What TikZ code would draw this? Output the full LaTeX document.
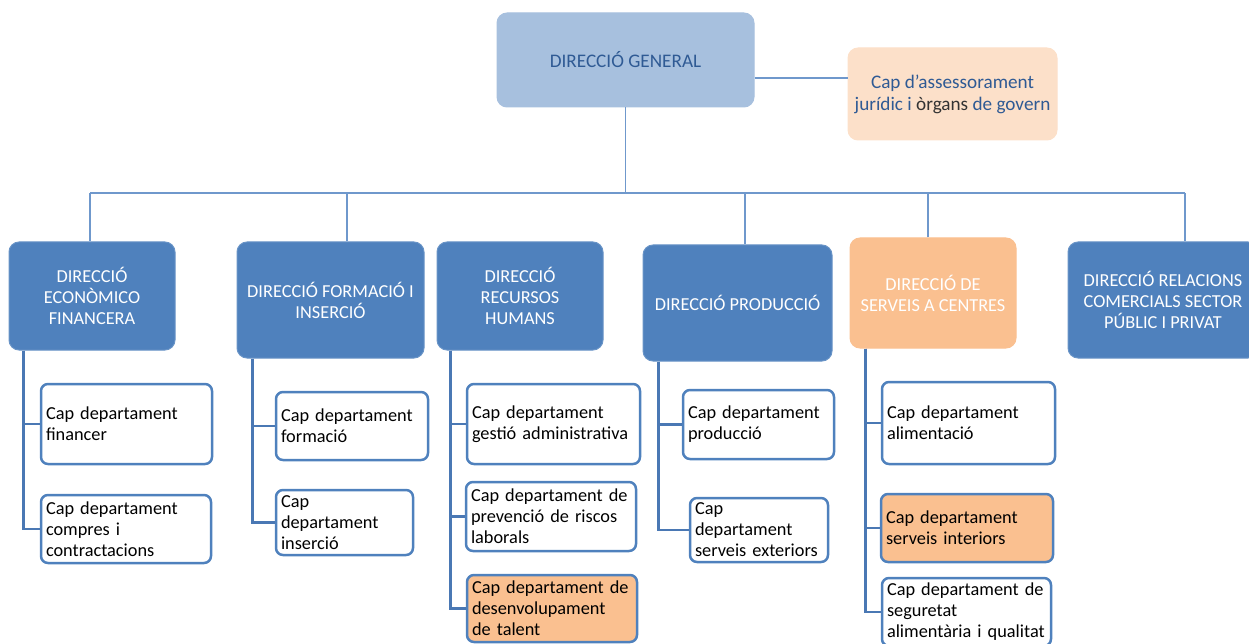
\documentclass[tikz,border=0pt]{standalone}
\usepackage{fontspec}
\setmainfont{Carlito}
\usepackage{xcolor}
\usepackage{tikz}
\definecolor{dirblue}{HTML}{4F81BD}
\definecolor{genblue}{HTML}{A7C0DE}
\definecolor{gentext}{HTML}{2F5A94}
\definecolor{peach}{HTML}{FAC090}
\definecolor{lightpeach}{HTML}{FCE0C9}
\definecolor{busline}{HTML}{6F98CC}
\definecolor{tieline}{HTML}{4A78B4}

\tikzset{
  dirbox/.style={fill=dirblue, draw=dirblue!85!white, line width=1pt,
    rounded corners=10pt, text=white, align=center, inner sep=0pt},
  topbox/.style={dirbox, text=gentext, font=\fontsize{19.2}{22}\selectfont},
  capbox/.style={fill=white, draw=dirblue, line width=2.5pt,
    rounded corners=7pt, align=left, inner xsep=5pt, inner ysep=0pt},
  bus/.style={draw=busline, line width=1.6pt},
  tie/.style={draw=tieline, line width=2.8pt},
}

\begin{document}
\begin{tikzpicture}[x=1pt,y=-1pt,font=\fontsize{18.3}{21}\selectfont]
  \useasboundingbox (0,0) rectangle (1249,644);

  % top
  \node[topbox, fill=genblue, draw=genblue,
    minimum width=257, minimum height=94] (gen) at (625.5,60) {DIRECCIÓ GENERAL};
  \node[topbox, fill=lightpeach, draw=lightpeach,
    minimum width=209, minimum height=92] (ass) at (952.5,94)
    {Cap d’assessorament\\jurídic i \textcolor{black!80}{òrgans} de govern};

  % directions
  \node[dirbox, minimum width=166, minimum height=108] (eco) at (92,296)
    {DIRECCIÓ\\ECONÒMICO\\FINANCERA};
  \node[dirbox, minimum width=187, minimum height=116] (form) at (330.5,300)
    {DIRECCIÓ FORMACIÓ I\\INSERCIÓ};
  \node[dirbox, minimum width=166, minimum height=108] (rh) at (520,296)
    {DIRECCIÓ\\RECURSOS\\HUMANS};
  \node[dirbox, minimum width=189, minimum height=116] (prod) at (737.5,303)
    {DIRECCIÓ PRODUCCIÓ};
  \node[dirbox, fill=peach, draw=peach, minimum width=166, minimum height=110] (serv) at (933,293)
    {DIRECCIÓ DE\\SERVEIS A CENTRES};
  \node[dirbox, minimum width=190, minimum height=116] (rel) at (1163,300)
    {DIRECCIÓ RELACIONS\\COMERCIALS SECTOR\\PÚBLIC I PRIVAT};

  % bus
  \coordinate (busL) at (90,193);
  \coordinate (busR) at (1185,193);
  \draw[bus] (busL) -- (busR);
  \draw[bus] (gen.south) -- (gen.south |- busL);
  \draw[bus] ([yshift=-18]gen.east) -- ([yshift=-18]gen.east -| ass.west);
  \draw[bus] (busL) -- (busL |- eco.north);
  \draw[bus] ([xshift=16.5]form.north) -- ([xshift=16.5]form.north |- busL);
  \draw[bus] ([xshift=7.5]prod.north) -- ([xshift=7.5]prod.north |- busL);
  \draw[bus] ([xshift=-5]serv.north) -- ([xshift=-5]serv.north |- busL);
  \draw[bus] (busR) -- (busR |- rel.north);

  % departments
  \node[capbox, text width=161, minimum height=80] (ecoA) at (126.5,424)
    {Cap departament\\financer};
  \node[capbox, text width=160, minimum height=68] (ecoB) at (126,529)
    {Cap departament\\compres i\\contractacions};
  \node[capbox, text width=142, minimum height=68] (formA) at (352,426)
    {Cap departament\\formació};
  \node[capbox, text width=127, minimum height=65] (formB) at (344.5,522.5)
    {Cap\\departament\\inserció};
  \node[capbox, text width=163, minimum height=80] (rhA) at (553.5,424)
    {Cap departament\\gestió administrativa};
  \node[capbox, text width=160, minimum height=69] (rhB) at (551,516.5)
    {\mbox{Cap departament de}\\\mbox{prevenció de riscos}\\laborals};
  \node[capbox, fill=peach, text width=160, minimum height=67] (rhC) at (552,608.5)
    {\mbox{Cap departament de}\\desenvolupament\\de talent};
  \node[capbox, text width=141, minimum height=69] (prodA) at (758.5,424.5)
    {Cap departament\\producció};
  \node[capbox, text width=128, minimum height=64] (prodB) at (759,530)
    {Cap\\departament\\\mbox{serveis exteriors}};
  \node[capbox, text width=163, minimum height=82] (servA) at (968.5,423)
    {Cap departament\\alimentació};
  \node[capbox, fill=peach, text width=162, minimum height=68] (servB) at (967,528)
    {Cap departament\\serveis interiors};
  \node[capbox, text width=159, minimum height=68] (servC) at (966.5,612)
    {\mbox{Cap departament de}\\seguretat\\\mbox{alimentària i qualitat}};

  % ties
  \coordinate (ecoT) at ([xshift=15]eco.south west);
  \coordinate (formT) at ([xshift=16]form.south west);
  \coordinate (rhT) at ([xshift=14]rh.south west);
  \coordinate (prodT) at ([xshift=16]prod.south west);
  \coordinate (servT) at ([xshift=16]serv.south west);
  \draw[tie] (ecoT) |- (ecoA.west);
  \draw[tie] (ecoT) |- (ecoB.west);
  \draw[tie] (formT) |- (formA.west);
  \draw[tie] (formT) |- (formB.west);
  \draw[tie] (rhT) |- (rhA.west);
  \draw[tie] (rhT) |- (rhB.west);
  \draw[tie] (rhT) |- (rhC.west);
  \draw[tie] (prodT) |- (prodA.west);
  \draw[tie] (prodT) |- (prodB.west);
  \draw[tie] (servT) |- (servA.west);
  \draw[tie] (servT) |- (servB.west);
  \draw[tie] (servT) |- (servC.west);
\end{tikzpicture}
\end{document}
